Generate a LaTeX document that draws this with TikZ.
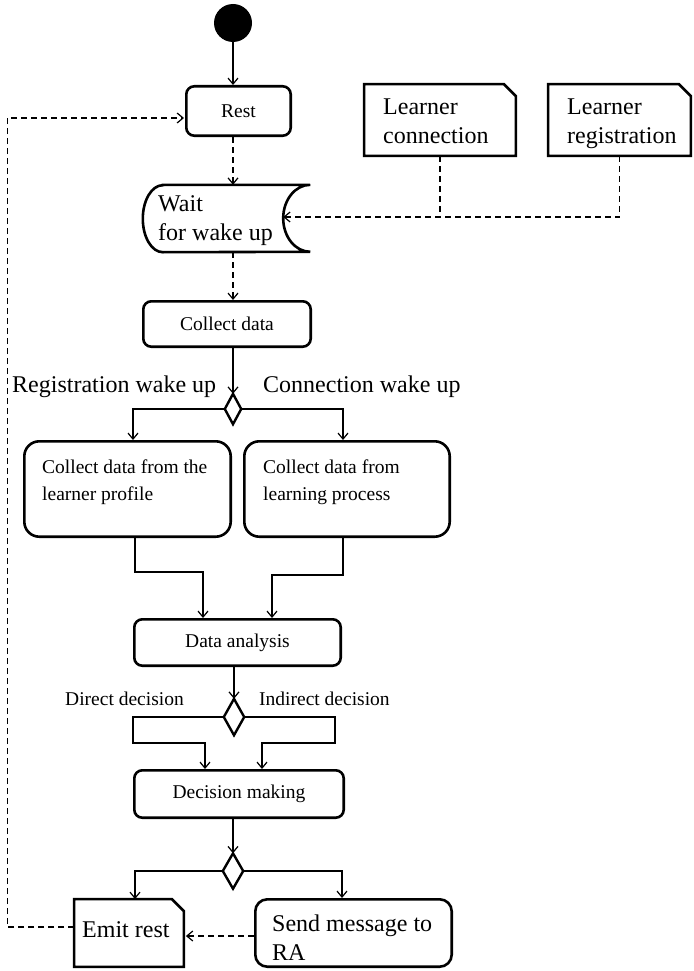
\documentclass[tikz,border=0pt]{standalone}
\usepackage{fontspec}
\setmainfont{Liberation Serif}
\usetikzlibrary{arrows.meta,calc}

\begin{document}
\begin{tikzpicture}[x=1pt,y=-1pt,
  arr/.style={-{Straight Barb[length=6pt,width=10pt]}},
  plain/.style={line width=1.2pt},
  dashedline/.style={line width=1.2pt, dash pattern=on 6pt off 4pt},
  frame/.style={line width=2.6pt},
  actbox/.style={draw, line width=2.6pt, rounded corners=8pt, inner sep=0pt},
  bigbox/.style={draw, line width=2.6pt, rounded corners=15pt, inner sep=0pt},
  ghost/.style={inner sep=0pt},
  bigtxt/.style={font=\fontsize{24}{29}\selectfont},
  smalltxt/.style={font=\fontsize{19.5}{27}\selectfont},
  tag/.style={inner sep=0pt, anchor=base west}
]
\fill[white] (0,0) rectangle (693,971);
\useasboundingbox (0,0) rectangle (693,971);

% initial state and first activity
\node[circle, fill=black, minimum size=38pt, inner sep=0pt] (start) at (233,23) {};
\node[actbox, smalltxt, minimum width=104.4pt, minimum height=49.4pt] (rest) at (238.5,111) {Rest};

% wait state: rounded left side, concave right side
\node[ghost, minimum width=167pt, minimum height=67pt] (wait) at (226.5,218.5) {};
\draw[frame] ($(wait.north west)+(20,0)$) -- (wait.north east)
  arc[start angle=90, end angle=270, x radius=27pt, y radius=33.5pt]
  -- ($(wait.south west)+(20,0)$)
  arc[start angle=270, end angle=90, x radius=20pt, y radius=33.5pt] -- cycle;
\node[bigtxt, anchor=north west, align=left, inner sep=0pt] (waittext) at (158,195.5) {Wait\\for wake up};
\coordinate (wakein) at ($(wait.east)+(-27,-1.5)$);

% incoming signals (boxes with a cut corner)
\node[ghost, minimum width=151.4pt, minimum height=71.4pt] (lc) at (440,120) {};
\draw[frame] (lc.south west) -- (lc.north west) -- ($(lc.north east)+(-12,0)$)
  -- ($(lc.north east)+(0,12)$) -- (lc.south east) -- cycle;
\node[bigtxt, anchor=north west, align=left, inner sep=0pt] (lctext) at (383,99) {Learner\\connection};

\node[ghost, minimum width=142.4pt, minimum height=71.4pt] (lr) at (619.5,120) {};
\draw[frame] (lr.south west) -- (lr.north west) -- ($(lr.north east)+(-12,0)$)
  -- ($(lr.north east)+(0,12)$) -- (lr.south east) -- cycle;
\node[bigtxt, anchor=north west, align=left, inner sep=0pt] (lrtext) at (567,99) {Learner\\registration};

% data collection
\node[actbox, smalltxt, minimum width=167.4pt, minimum height=45.4pt] (cd) at (227,324) {Collect data};

\node[ghost, minimum width=16pt, minimum height=30pt] (d1) at (233,409) {};
\draw[line width=2.4pt] (d1.north) -- (d1.east) -- (d1.south) -- (d1.west) -- cycle;
\node[tag, bigtxt] (lregwake) at (12,392) {Registration wake up};
\node[tag, bigtxt] (lconwake) at (263,392) {Connection wake up};

\node[bigbox, minimum width=206.4pt, minimum height=95.4pt] (cl) at (127.5,489) {};
\node[smalltxt, anchor=north west, align=left, inner sep=0pt] (cltext) at (42,459.7) {Collect data from the\\learner profile};
\node[bigbox, minimum width=205.4pt, minimum height=95.4pt] (cr) at (347,489) {};
\node[smalltxt, anchor=north west, align=left, inner sep=0pt] (crtext) at (263,459.7) {Collect data from\\learning process};

% analysis and decision
\node[actbox, smalltxt, minimum width=206.4pt, minimum height=46.4pt] (da) at (237.5,642.5) {Data analysis};

\node[ghost, minimum width=20pt, minimum height=36pt] (d2) at (234,717) {};
\draw[line width=2.4pt] (d2.north) -- (d2.east) -- (d2.south) -- (d2.west) -- cycle;
\node[tag, smalltxt] (ldirect) at (65,705) {Direct decision};
\node[tag, smalltxt] (lindirect) at (259,705) {Indirect decision};
\coordinate (jl) at (133,743);
\coordinate (jr) at (335,743);

\node[actbox, smalltxt, minimum width=209.4pt, minimum height=47.4pt] (dm) at (239,794) {Decision making};

\node[ghost, minimum width=20pt, minimum height=35pt] (d3) at (233,871) {};
\draw[line width=2.4pt] (d3.north) -- (d3.east) -- (d3.south) -- (d3.west) -- cycle;

% outcomes
\node[ghost, minimum width=109.4pt, minimum height=67.4pt] (er) at (129,933) {};
\draw[frame] (er.south west) -- (er.north west) -- ($(er.north east)+(-12,0)$)
  -- ($(er.north east)+(0,12)$) -- (er.south east) -- cycle;
\node[tag, bigtxt] (ertext) at (82,937) {Emit rest};

\node[bigbox, rounded corners=12pt, minimum width=196.4pt, minimum height=67.4pt] (sm) at (353.5,933) {};
\node[bigtxt, anchor=north west, align=left, inner sep=0pt] (smtext) at (272,914.6) {Send message to\\RA};

% control flow
\draw[plain, arr] (start) -- (rest.north -| start);
\draw[dashedline, arr] (rest.south -| start) -- (wait.north -| start);
\draw[dashedline] (lc.south) -- (lc.south |- wakein);
\draw[dashedline, arr] (lr.south) |- (wakein);
\draw[dashedline, arr] (wait.south -| start) -- (cd.north -| start);
\draw[plain, arr] (cd.south -| start) -- (d1.north);
\draw[plain, arr] (d1.west) -| ([xshift=5.5pt]cl.north);
\draw[plain, arr] (d1.east) -| ([xshift=-4pt]cr.north);
\draw[plain, arr] ([xshift=7.5pt]cl.south) -- ++(0,34) -| ([xshift=-34.5pt]da.north);
\draw[plain, arr] ([xshift=-4pt]cr.south) -- ++(0,37) -| ([xshift=34.5pt]da.north);
\draw[plain, arr] (d2.north |- da.south) -- (d2.north);
\draw[plain, arr] (d2.west) -| (jl) -| ([xshift=-34pt]dm.north);
\draw[plain, arr] (d2.east) -| (jr) -| ([xshift=23pt]dm.north);
\draw[plain, arr] (d3.north |- dm.south) -- (d3.north);
\draw[plain, arr] (d3.west) -| ([xshift=6pt]er.north);
\draw[plain, arr] (d3.east) -| ([xshift=-11.5pt]sm.north);
\draw[dashedline, arr, shorten >=2pt] ([yshift=-3pt]sm.west) -- ([yshift=-3pt]er.east);
\draw[dashedline, arr, shorten >=1pt] ([yshift=6pt]er.west) -- ++(-67,0) |- ([yshift=-7pt]rest.west);
\end{tikzpicture}
\end{document}
